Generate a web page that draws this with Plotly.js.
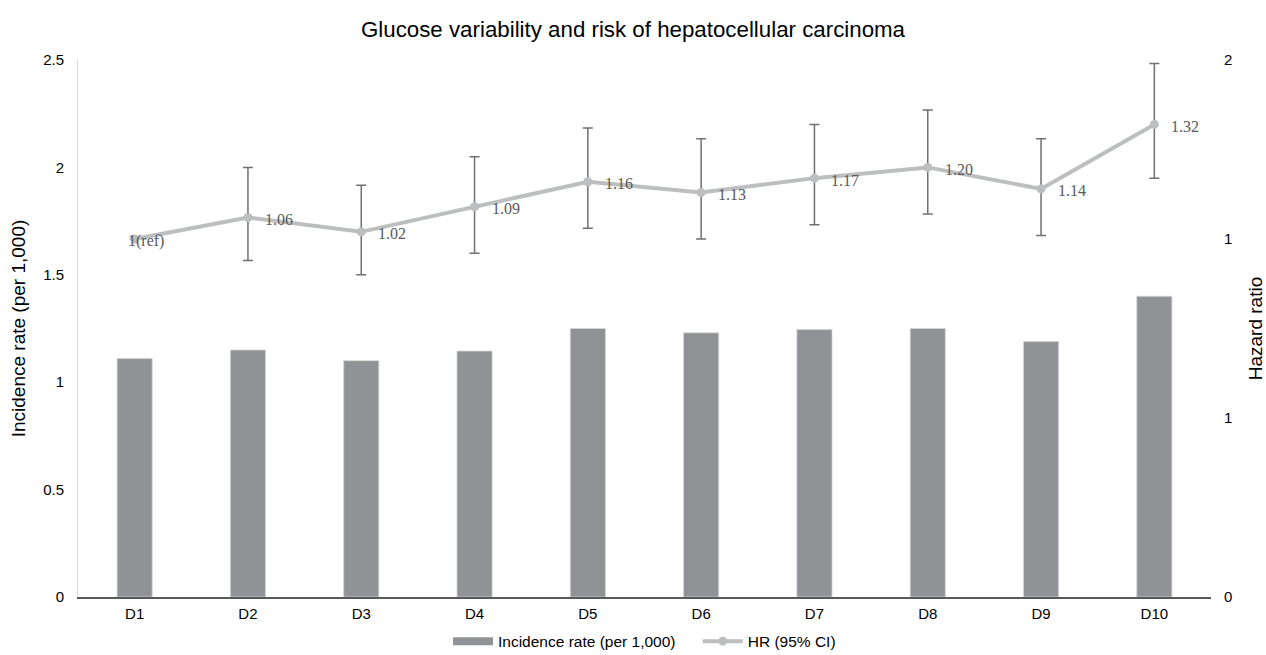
<!DOCTYPE html>
<html>
<head>
<meta charset="utf-8">
<script src="https://cdn.plot.ly/plotly-3.0.1.min.js"></script>
<style>html,body{margin:0;padding:0;background:#fff}#chart{width:1266px;height:655px}</style>
</head>
<body>
<div id="chart"></div>
<script>
const categories = ["D1","D2","D3","D4","D5","D6","D7","D8","D9","D10"];
const incidence = [1.11, 1.15, 1.10, 1.145, 1.25, 1.23, 1.245, 1.25, 1.19, 1.40];
const hr = [1.00, 1.06, 1.02, 1.09, 1.16, 1.13, 1.17, 1.20, 1.14, 1.32];
const hrUpper = [null, 1.20, 1.15, 1.23, 1.31, 1.28, 1.32, 1.36, 1.28, 1.49];
const hrLower = [null, 0.94, 0.90, 0.96, 1.03, 1.00, 1.04, 1.07, 1.01, 1.17];
const hrLabels = ["1(ref)","1.06","1.02","1.09","1.16","1.13","1.17","1.20","1.14","1.32"];
const leftTicks = [0, 0.5, 1, 1.5, 2, 2.5];
const leftTickText = ["0","0.5","1","1.5","2","2.5"];
const rightTicks = [0, 0.5, 1, 1.5];
const rightTickText = ["0","1","1","2"];

const errPlus = hr.map((v,i)=> hrUpper[i]==null ? 0 : hrUpper[i]-v);
const errMinus = hr.map((v,i)=> hrLower[i]==null ? 0 : v-hrLower[i]);

const bars = {
  type: 'bar', name: 'Incidence rate (per 1,000)', showlegend: false,
  x: categories, y: incidence, yaxis: 'y',
  marker: {color: '#919295', line: {color: '#d4d4d6', width: 0.8}}
};
// legend-only entry giving the wide, flat swatch of the bar series
const barKey = {
  type: 'scatter', mode: 'lines', name: 'Incidence rate (per 1,000)\u00a0\u00a0\u00a0\u00a0',
  x: [null], y: [null], yaxis: 'y',
  line: {color: '#919295', width: 8}
};
const line = {
  type: 'scatter', mode: 'lines+markers', name: 'HR (95% CI)',
  x: categories, y: hr, yaxis: 'y2',
  line: {color: '#bdbec0', width: 4},
  marker: {color: '#bdbec0', size: 9},
  error_y: {type: 'data', symmetric: false, array: errPlus, arrayminus: errMinus,
            color: '#707070', thickness: 1.5, width: 5}
};

const annotations = categories.map((c,i)=>({
  x: c, y: hr[i], xref: 'x', yref: 'y2', text: hrLabels[i],
  showarrow: false, xanchor: 'left', yanchor: 'middle',
  xshift: i === 0 ? -9 : 15, yshift: -2,
  font: {family: '"Liberation Serif", "Times New Roman", serif', size: 16, color: '#595959'}
}));

const layout = {
  width: 1266, height: 655,
  margin: {l: 78, r: 55, t: 60, b: 58, autoexpand: false},
  paper_bgcolor: '#fff', plot_bgcolor: '#fff',
  font: {family: '"Liberation Sans", Arial, sans-serif', color: '#000', size: 15},
  title: {text: 'Glucose variability and risk of hepatocellular carcinoma',
          x: 0.5, xanchor: 'center', y: 0.955, yanchor: 'middle',
          font: {size: 22.3, color: '#000'}},
  bargap: 0.69,
  showlegend: true,
  legend: {orientation: 'h', x: 0.5, xanchor: 'center', y: -0.083, yanchor: 'middle',
           font: {size: 15.5}, itemwidth: 40, tracegroupgap: 0},
  xaxis: {type: 'category', range: [-0.5, categories.length - 0.5], autorange: false,
          showgrid: false, showline: true, linecolor: '#595959', linewidth: 1.5,
          ticks: '', tickfont: {size: 15}, ticklabelstandoff: 2, zeroline: false},
  yaxis: {range: [0, 2.5], autorange: false, tickvals: leftTicks, ticktext: leftTickText, showgrid: false,
          showline: true, linecolor: '#d9d9d9', linewidth: 1, zeroline: false,
          ticks: '', ticklabelstandoff: 10, tickfont: {size: 15},
          title: {text: 'Incidence rate (per 1,000)', font: {size: 19}, standoff: 12}},
  yaxis2: {range: [0, 1.5], autorange: false, tickvals: rightTicks, ticktext: rightTickText, overlaying: 'y',
           side: 'right', showgrid: false, showline: false, zeroline: false, ticks: '',
           ticklabelstandoff: 12, tickfont: {size: 15},
           title: {text: 'Hazard ratio', font: {size: 19}, standoff: 18}},
  annotations: annotations
};

Plotly.newPlot('chart', [barKey, bars, line], layout, {displayModeBar: false, staticPlot: true});
</script>
</body>
</html>
